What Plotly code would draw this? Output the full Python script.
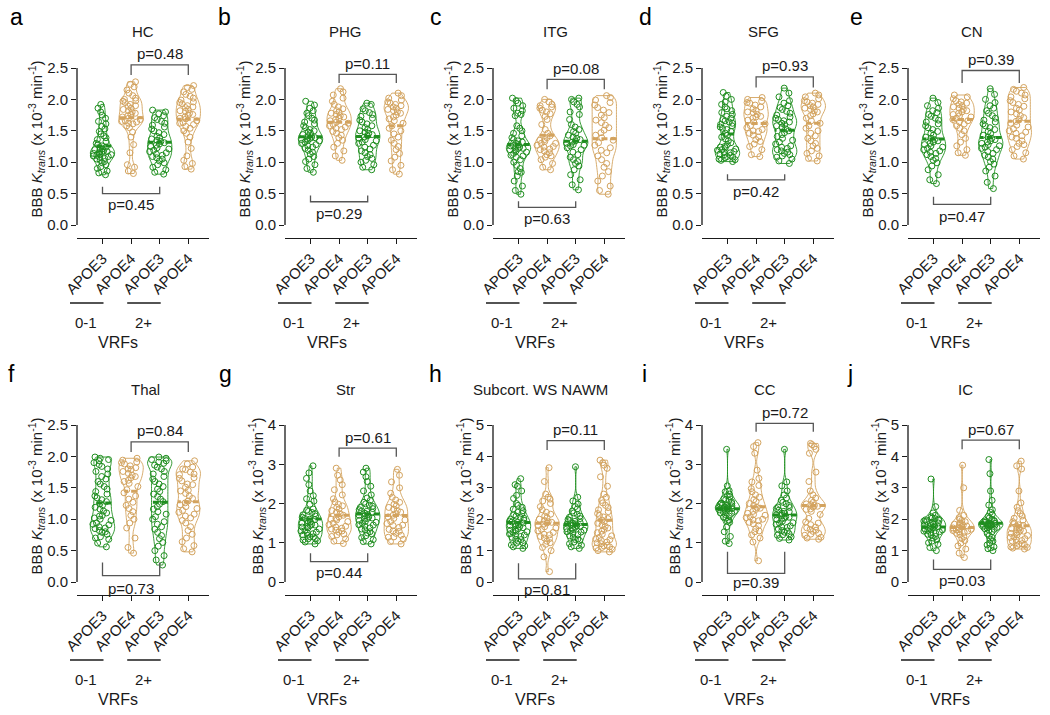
import plotly.graph_objects as go

# ------------------------------------------------------------------ data
PANEL_LETTERS = ['a', 'b', 'c', 'd', 'e', 'f', 'g', 'h', 'i', 'j']
PANEL_TITLES = ['HC', 'PHG', 'ITG', 'SFG', 'CN', 'Thal', 'Str', 'Subcort. WS NAWM', 'CC', 'IC']
CATEGORIES = ['APOE3', 'APOE4', 'APOE3', 'APOE4']
VRF_GROUPS = ['0-1', '2+']
Y_MAX = [2.5, 2.5, 2.5, 2.5, 2.5, 2.5, 4, 5, 4, 5]
Y_STEP = [0.5, 0.5, 0.5, 0.5, 0.5, 0.5, 1, 1, 1, 1]
P_TOP = ['p=0.48', 'p=0.11', 'p=0.08', 'p=0.93', 'p=0.39', 'p=0.84', 'p=0.61', 'p=0.11', 'p=0.72', 'p=0.67']
P_BOTTOM = ['p=0.45', 'p=0.29', 'p=0.63', 'p=0.42', 'p=0.47', 'p=0.73', 'p=0.44', 'p=0.81', 'p=0.39', 'p=0.03']

HC_01_E3 = [0.80, 0.83, 0.86, 0.90, 0.93, 0.96, 0.99, 1.01, 1.03, 1.05, 1.06, 1.08, 1.09, 1.10, 1.11, 1.12, 1.13, 1.14, 1.15, 1.16, 1.17, 1.18, 1.19, 1.20, 1.21, 1.22, 1.24, 1.26, 1.28, 1.30, 1.33, 1.36, 1.39, 1.42, 1.45, 1.49, 1.53, 1.57, 1.61, 1.65, 1.70, 1.75, 1.80, 1.86, 1.92]
HC_01_E4 = [0.82, 0.86, 0.92, 0.96, 1.15, 1.28, 1.40, 1.48, 1.55, 1.58, 1.61, 1.62, 1.64, 1.65, 1.66, 1.68, 1.70, 1.72, 1.74, 1.76, 1.78, 1.80, 1.82, 1.84, 1.86, 1.89, 1.90, 1.92, 1.95, 1.97, 1.98, 2.00, 2.02, 2.06, 2.10, 2.15, 2.20, 2.24, 2.28]
HC_2_E3 = [0.81, 0.84, 0.88, 0.92, 0.96, 0.99, 1.02, 1.05, 1.07, 1.09, 1.11, 1.13, 1.15, 1.17, 1.19, 1.21, 1.23, 1.25, 1.27, 1.29, 1.31, 1.33, 1.35, 1.37, 1.39, 1.41, 1.44, 1.47, 1.50, 1.53, 1.56, 1.59, 1.62, 1.65, 1.68, 1.71, 1.74, 1.77, 1.80, 1.83]
HC_2_E4 = [0.89, 0.93, 0.98, 1.03, 1.10, 1.22, 1.32, 1.40, 1.46, 1.50, 1.54, 1.57, 1.60, 1.62, 1.63, 1.66, 1.69, 1.70, 1.72, 1.75, 1.76, 1.78, 1.81, 1.82, 1.84, 1.87, 1.88, 1.90, 1.93, 1.95, 1.96, 1.99, 2.02, 2.05, 2.08, 2.12, 2.16, 2.19, 2.22]

PHG_01_E3 = [0.84, 0.90, 0.96, 1.01, 1.05, 1.09, 1.13, 1.16, 1.19, 1.22, 1.24, 1.26, 1.28, 1.30, 1.32, 1.34, 1.35, 1.36, 1.37, 1.38, 1.39, 1.40, 1.42, 1.44, 1.46, 1.48, 1.50, 1.52, 1.55, 1.58, 1.61, 1.64, 1.67, 1.70, 1.74, 1.78, 1.82, 1.86, 1.91, 1.97]
PHG_01_E4 = [1.03, 1.10, 1.18, 1.24, 1.30, 1.35, 1.39, 1.43, 1.46, 1.49, 1.52, 1.54, 1.56, 1.58, 1.60, 1.62, 1.64, 1.66, 1.68, 1.70, 1.72, 1.74, 1.76, 1.78, 1.80, 1.82, 1.85, 1.88, 1.92, 1.97, 2.02, 2.07, 2.12, 2.17]
PHG_2_E3 = [0.88, 0.92, 0.96, 1.00, 1.03, 1.06, 1.09, 1.12, 1.15, 1.18, 1.21, 1.24, 1.27, 1.30, 1.32, 1.34, 1.36, 1.38, 1.40, 1.42, 1.44, 1.46, 1.48, 1.50, 1.52, 1.55, 1.58, 1.61, 1.64, 1.67, 1.70, 1.73, 1.76, 1.79, 1.82, 1.85, 1.92, 1.94]
PHG_2_E4 = [0.81, 0.88, 0.95, 1.02, 1.08, 1.14, 1.20, 1.25, 1.30, 1.35, 1.40, 1.45, 1.50, 1.54, 1.58, 1.62, 1.66, 1.69, 1.72, 1.75, 1.78, 1.80, 1.82, 1.84, 1.86, 1.88, 1.90, 1.92, 1.94, 1.96, 1.99, 2.02, 2.06, 2.10]

ITG_01_E3 = [0.49, 0.55, 0.62, 0.70, 0.78, 0.84, 0.85, 0.90, 0.95, 1.00, 1.04, 1.08, 1.10, 1.11, 1.14, 1.16, 1.18, 1.20, 1.20, 1.22, 1.22, 1.24, 1.25, 1.26, 1.28, 1.30, 1.32, 1.34, 1.36, 1.39, 1.42, 1.46, 1.50, 1.54, 1.58, 1.74, 1.76, 1.78, 1.82, 1.86, 1.90, 1.94, 1.98, 2.02]
ITG_01_E4 = [0.88, 0.92, 0.98, 1.04, 1.08, 1.10, 1.12, 1.15, 1.18, 1.20, 1.21, 1.24, 1.25, 1.27, 1.30, 1.30, 1.33, 1.35, 1.36, 1.39, 1.42, 1.46, 1.52, 1.60, 1.68, 1.73, 1.77, 1.80, 1.83, 1.86, 1.88, 1.90, 1.92, 1.96, 2.00]
ITG_2_E3 = [0.56, 0.64, 0.72, 0.80, 0.88, 0.94, 0.98, 1.01, 1.04, 1.08, 1.12, 1.16, 1.20, 1.23, 1.26, 1.27, 1.28, 1.30, 1.32, 1.34, 1.36, 1.38, 1.40, 1.43, 1.46, 1.49, 1.52, 1.56, 1.60, 1.68, 1.76, 1.80, 1.88, 1.92, 1.96, 2.00, 2.02]
ITG_2_E4 = [0.49, 0.55, 0.62, 0.70, 0.78, 0.85, 0.92, 0.98, 1.04, 1.10, 1.15, 1.19, 1.23, 1.27, 1.31, 1.35, 1.39, 1.43, 1.47, 1.51, 1.55, 1.59, 1.63, 1.67, 1.71, 1.75, 1.79, 1.83, 1.87, 1.91, 1.95, 1.99, 2.03, 2.06]

SFG_01_E3 = [1.01, 1.03, 1.04, 1.05, 1.07, 1.08, 1.09, 1.11, 1.12, 1.13, 1.15, 1.16, 1.17, 1.19, 1.20, 1.21, 1.23, 1.24, 1.25, 1.28, 1.31, 1.34, 1.37, 1.40, 1.43, 1.46, 1.49, 1.52, 1.54, 1.56, 1.58, 1.60, 1.62, 1.64, 1.66, 1.68, 1.70, 1.73, 1.76, 1.79, 1.82, 1.85, 1.88, 1.92, 1.96, 2.00, 2.05, 2.11]
SFG_01_E4 = [1.09, 1.12, 1.20, 1.25, 1.29, 1.33, 1.36, 1.40, 1.43, 1.46, 1.49, 1.50, 1.52, 1.55, 1.58, 1.61, 1.64, 1.67, 1.70, 1.72, 1.73, 1.76, 1.79, 1.80, 1.82, 1.85, 1.88, 1.91, 1.94, 1.95, 1.97, 2.00, 2.03]
SFG_2_E3 = [0.98, 1.02, 1.05, 1.08, 1.10, 1.12, 1.14, 1.16, 1.18, 1.20, 1.22, 1.24, 1.26, 1.29, 1.32, 1.35, 1.38, 1.41, 1.44, 1.47, 1.50, 1.53, 1.56, 1.58, 1.60, 1.62, 1.64, 1.66, 1.68, 1.70, 1.72, 1.75, 1.78, 1.81, 1.84, 1.87, 1.90, 1.94, 1.98, 2.04, 2.10, 2.18]
SFG_2_E4 = [1.02, 1.06, 1.10, 1.14, 1.18, 1.22, 1.26, 1.30, 1.34, 1.38, 1.42, 1.46, 1.50, 1.54, 1.58, 1.62, 1.66, 1.70, 1.74, 1.77, 1.80, 1.82, 1.84, 1.86, 1.88, 1.90, 1.92, 1.94, 1.96, 1.98, 2.01, 2.04, 2.07, 2.10]

CN_01_E3 = [0.66, 0.72, 0.80, 0.88, 0.94, 0.99, 1.03, 1.06, 1.09, 1.12, 1.14, 1.16, 1.18, 1.20, 1.22, 1.24, 1.26, 1.28, 1.30, 1.32, 1.34, 1.36, 1.38, 1.40, 1.43, 1.46, 1.49, 1.52, 1.55, 1.58, 1.61, 1.64, 1.67, 1.70, 1.73, 1.76, 1.79, 1.82, 1.86, 1.90, 1.95, 2.02]
CN_01_E4 = [1.11, 1.15, 1.20, 1.26, 1.32, 1.38, 1.44, 1.50, 1.54, 1.58, 1.61, 1.64, 1.66, 1.68, 1.70, 1.72, 1.74, 1.76, 1.78, 1.80, 1.82, 1.84, 1.86, 1.88, 1.90, 1.92, 1.94, 1.96, 1.98, 2.01, 2.04, 2.07]
CN_2_E3 = [0.58, 0.68, 0.78, 0.86, 0.92, 0.97, 1.01, 1.05, 1.08, 1.11, 1.14, 1.17, 1.20, 1.22, 1.24, 1.26, 1.28, 1.30, 1.32, 1.34, 1.36, 1.38, 1.40, 1.43, 1.46, 1.49, 1.52, 1.55, 1.58, 1.61, 1.64, 1.67, 1.70, 1.74, 1.78, 1.82, 1.86, 1.90, 1.95, 2.00, 2.08, 2.17]
CN_2_E4 = [1.05, 1.10, 1.15, 1.20, 1.25, 1.28, 1.30, 1.34, 1.38, 1.40, 1.42, 1.46, 1.48, 1.50, 1.53, 1.56, 1.59, 1.62, 1.65, 1.68, 1.71, 1.74, 1.77, 1.80, 1.83, 1.86, 1.89, 1.92, 1.95, 1.98, 2.01, 2.04, 2.07, 2.10, 2.13, 2.16, 2.19]

THAL_01_E3 = [0.56, 0.62, 0.68, 0.70, 0.72, 0.76, 0.79, 0.80, 0.82, 0.85, 0.86, 0.88, 0.91, 0.92, 0.94, 0.98, 1.00, 1.02, 1.05, 1.06, 1.10, 1.13, 1.16, 1.19, 1.22, 1.25, 1.28, 1.31, 1.34, 1.37, 1.40, 1.44, 1.48, 1.52, 1.56, 1.60, 1.64, 1.68, 1.72, 1.76, 1.80, 1.84, 1.87, 1.90, 1.93, 1.95, 1.97, 1.99]
THAL_01_E4 = [0.46, 0.55, 0.70, 0.86, 0.94, 1.00, 1.06, 1.12, 1.17, 1.22, 1.27, 1.32, 1.37, 1.42, 1.47, 1.52, 1.57, 1.60, 1.62, 1.66, 1.68, 1.70, 1.73, 1.76, 1.79, 1.80, 1.82, 1.85, 1.88, 1.90, 1.91, 1.94, 1.97]
THAL_2_E3 = [0.27, 0.35, 0.42, 0.50, 0.57, 0.63, 0.69, 0.74, 0.79, 0.84, 0.88, 0.92, 0.96, 1.00, 1.04, 1.08, 1.12, 1.16, 1.20, 1.24, 1.28, 1.32, 1.36, 1.40, 1.44, 1.48, 1.52, 1.56, 1.60, 1.64, 1.68, 1.72, 1.76, 1.80, 1.83, 1.86, 1.89, 1.91, 1.93, 1.95, 1.97, 1.99]
THAL_2_E4 = [0.48, 0.53, 0.58, 0.64, 0.70, 0.76, 0.82, 0.88, 0.94, 0.98, 1.02, 1.05, 1.08, 1.11, 1.14, 1.17, 1.20, 1.23, 1.26, 1.29, 1.33, 1.37, 1.41, 1.45, 1.46, 1.51, 1.55, 1.56, 1.61, 1.65, 1.66, 1.71, 1.72, 1.75, 1.79, 1.80, 1.83, 1.88, 1.93]

STR_01_E3 = [0.97, 1.02, 1.05, 1.07, 1.10, 1.11, 1.15, 1.15, 1.19, 1.20, 1.23, 1.25, 1.27, 1.30, 1.31, 1.35, 1.38, 1.40, 1.41, 1.44, 1.45, 1.47, 1.50, 1.50, 1.53, 1.56, 1.59, 1.60, 1.62, 1.65, 1.68, 1.71, 1.74, 1.77, 1.80, 1.83, 1.86, 1.98, 2.06, 2.12, 2.20, 2.32, 2.48, 2.64, 2.78, 2.96]
STR_01_E4 = [0.98, 1.04, 1.10, 1.16, 1.20, 1.22, 1.27, 1.30, 1.32, 1.35, 1.37, 1.40, 1.42, 1.46, 1.50, 1.54, 1.58, 1.60, 1.62, 1.66, 1.70, 1.74, 1.78, 1.82, 1.86, 1.90, 1.94, 1.98, 2.04, 2.12, 2.22, 2.35, 2.48, 2.60, 2.72, 2.90]
STR_2_E3 = [0.97, 1.03, 1.08, 1.13, 1.18, 1.23, 1.25, 1.28, 1.33, 1.35, 1.38, 1.42, 1.45, 1.46, 1.50, 1.52, 1.54, 1.57, 1.60, 1.62, 1.63, 1.66, 1.69, 1.70, 1.72, 1.75, 1.78, 1.80, 1.81, 1.84, 1.87, 1.90, 1.93, 1.96, 1.99, 2.03, 2.08, 2.14, 2.22, 2.32, 2.44, 2.56, 2.68, 2.80, 2.90]
STR_2_E4 = [0.97, 1.03, 1.09, 1.14, 1.15, 1.19, 1.24, 1.29, 1.30, 1.34, 1.39, 1.44, 1.45, 1.49, 1.54, 1.58, 1.62, 1.66, 1.70, 1.74, 1.78, 1.82, 1.86, 1.90, 1.94, 1.98, 2.03, 2.09, 2.16, 2.26, 2.40, 2.55, 2.72, 2.87]

NAWM_01_E3 = [1.07, 1.12, 1.15, 1.18, 1.24, 1.25, 1.30, 1.35, 1.36, 1.42, 1.45, 1.48, 1.50, 1.53, 1.58, 1.60, 1.62, 1.65, 1.66, 1.70, 1.73, 1.76, 1.79, 1.80, 1.82, 1.85, 1.88, 1.90, 1.91, 1.94, 1.97, 2.00, 2.03, 2.06, 2.10, 2.14, 2.18, 2.22, 2.27, 2.32, 2.38, 2.44, 2.50, 2.66, 2.76, 2.90, 3.05, 3.10, 3.29]
NAWM_01_E4 = [0.33, 0.80, 1.00, 1.10, 1.20, 1.25, 1.30, 1.38, 1.40, 1.45, 1.50, 1.52, 1.58, 1.63, 1.68, 1.72, 1.76, 1.80, 1.84, 1.88, 1.90, 1.92, 1.96, 2.00, 2.05, 2.10, 2.16, 2.22, 2.30, 2.40, 2.50, 2.58, 2.64, 2.70, 2.80, 3.20, 3.64]
NAWM_2_E3 = [1.07, 1.12, 1.17, 1.22, 1.27, 1.32, 1.35, 1.37, 1.42, 1.47, 1.51, 1.55, 1.59, 1.60, 1.63, 1.65, 1.67, 1.70, 1.71, 1.75, 1.78, 1.80, 1.81, 1.84, 1.85, 1.87, 1.90, 1.93, 1.96, 1.99, 2.02, 2.06, 2.10, 2.15, 2.20, 2.26, 2.33, 2.40, 2.48, 2.58, 2.70, 3.67]
NAWM_2_E4 = [0.96, 1.00, 1.04, 1.08, 1.10, 1.12, 1.15, 1.17, 1.22, 1.25, 1.27, 1.32, 1.35, 1.37, 1.42, 1.47, 1.52, 1.57, 1.62, 1.67, 1.72, 1.77, 1.82, 1.87, 1.92, 1.97, 2.02, 2.07, 2.12, 2.18, 2.24, 2.30, 2.37, 2.44, 2.52, 2.60, 2.70, 2.80, 3.05, 3.35, 3.62, 3.72, 3.80, 3.88]

CC_01_E3 = [0.98, 1.04, 1.16, 1.28, 1.40, 1.52, 1.55, 1.58, 1.63, 1.65, 1.68, 1.72, 1.75, 1.76, 1.79, 1.80, 1.82, 1.84, 1.85, 1.86, 1.87, 1.88, 1.89, 1.90, 1.91, 1.92, 1.94, 1.95, 1.96, 1.98, 2.00, 2.01, 2.04, 2.08, 2.10, 2.12, 2.17, 2.20, 2.24, 2.30, 2.33, 2.45, 3.38]
CC_01_E4 = [0.54, 1.02, 1.12, 1.20, 1.28, 1.30, 1.36, 1.44, 1.48, 1.52, 1.56, 1.58, 1.60, 1.64, 1.66, 1.70, 1.72, 1.75, 1.80, 1.85, 1.88, 1.90, 1.95, 2.00, 2.05, 2.10, 2.16, 2.22, 2.30, 2.38, 2.46, 2.55, 2.64, 2.85, 3.28, 3.45, 3.55]
CC_2_E3 = [1.07, 1.11, 1.15, 1.19, 1.20, 1.23, 1.27, 1.30, 1.31, 1.35, 1.39, 1.40, 1.43, 1.47, 1.50, 1.51, 1.55, 1.59, 1.60, 1.63, 1.65, 1.67, 1.70, 1.71, 1.75, 1.75, 1.79, 1.80, 1.83, 1.87, 1.90, 1.91, 1.95, 1.99, 2.03, 2.08, 2.14, 2.22, 2.32, 2.45, 2.55, 3.38]
CC_2_E4 = [1.09, 1.12, 1.14, 1.19, 1.22, 1.24, 1.29, 1.32, 1.34, 1.38, 1.40, 1.46, 1.50, 1.53, 1.62, 1.72, 1.80, 1.85, 1.86, 1.91, 1.93, 1.95, 1.97, 1.99, 2.03, 2.08, 2.14, 2.22, 2.32, 2.56, 2.80, 3.28, 3.38, 3.45, 3.50, 3.53]

IC_01_E3 = [1.00, 1.10, 1.20, 1.25, 1.30, 1.35, 1.40, 1.45, 1.50, 1.52, 1.55, 1.58, 1.60, 1.62, 1.64, 1.66, 1.68, 1.70, 1.72, 1.74, 1.76, 1.78, 1.80, 1.82, 1.84, 1.86, 1.88, 1.90, 1.92, 1.94, 1.96, 1.98, 2.00, 2.02, 2.04, 2.08, 2.12, 2.20, 2.40, 3.28]
IC_01_E4 = [0.78, 0.92, 1.05, 1.15, 1.24, 1.32, 1.38, 1.44, 1.50, 1.55, 1.58, 1.60, 1.62, 1.64, 1.66, 1.68, 1.70, 1.72, 1.74, 1.76, 1.78, 1.80, 1.82, 1.84, 1.86, 1.88, 1.92, 1.96, 2.00, 2.05, 2.12, 2.28, 3.00, 3.72]
IC_2_E3 = [1.00, 1.06, 1.12, 1.18, 1.24, 1.30, 1.36, 1.42, 1.48, 1.54, 1.60, 1.65, 1.68, 1.70, 1.72, 1.74, 1.76, 1.78, 1.79, 1.80, 1.81, 1.82, 1.83, 1.84, 1.85, 1.86, 1.87, 1.88, 1.90, 1.91, 1.93, 1.95, 1.96, 2.00, 2.04, 2.09, 2.15, 2.22, 2.30, 2.45, 2.60, 2.90, 3.45, 3.90]
IC_2_E4 = [1.05, 1.08, 1.10, 1.12, 1.15, 1.18, 1.20, 1.22, 1.26, 1.30, 1.32, 1.35, 1.38, 1.42, 1.44, 1.48, 1.50, 1.55, 1.56, 1.60, 1.62, 1.65, 1.67, 1.70, 1.72, 1.77, 1.80, 1.82, 1.87, 1.92, 1.97, 2.03, 2.10, 2.18, 2.27, 2.38, 2.52, 2.90, 3.60, 3.70, 3.85]

PANEL_GROUPS = [
    [HC_01_E3, HC_01_E4, HC_2_E3, HC_2_E4],
    [PHG_01_E3, PHG_01_E4, PHG_2_E3, PHG_2_E4],
    [ITG_01_E3, ITG_01_E4, ITG_2_E3, ITG_2_E4],
    [SFG_01_E3, SFG_01_E4, SFG_2_E3, SFG_2_E4],
    [CN_01_E3, CN_01_E4, CN_2_E3, CN_2_E4],
    [THAL_01_E3, THAL_01_E4, THAL_2_E3, THAL_2_E4],
    [STR_01_E3, STR_01_E4, STR_2_E3, STR_2_E4],
    [NAWM_01_E3, NAWM_01_E4, NAWM_2_E3, NAWM_2_E4],
    [CC_01_E3, CC_01_E4, CC_2_E3, CC_2_E4],
    [IC_01_E3, IC_01_E4, IC_2_E3, IC_2_E4],
]

# ------------------------------------------------------------------ layout / style
W, H = 1050, 715
FONT = 'Liberation Sans, Arial, Helvetica, sans-serif'
GREEN = '#1f8e1f'
TAN = '#d3a35e'
GROUP_COLORS = [GREEN, TAN, GREEN, TAN]
INK = '#1a1a1a'
BRACKET = '#555555'

AX_PX = [77, 285, 493, 702, 908]          # y-axis line x per column
DOM_W = 132                               # plot width in px
ROW_DOM = [(40, 238), (397, 595)]         # top / bottom px of each row's plot area
ZERO_PX = [225, 582]                      # pixel row of value 0
AXIS_H = 157                              # px from 0 to y max
PPX = 28.6                                # px per category step
XR0 = 1 - 25.5 / PPX
XR1 = XR0 + DOM_W / PPX

TOP_BRACKET_Y = [2.55, 2.40, 2.32, 2.36, 2.46, 2.23, 3.41, 4.50, 4.04, 4.52]
TOP_BRACKET_LEG = [2.39, 2.26, 2.16, 2.19, 2.26, 2.07, 3.19, 4.20, 3.83, 4.23]
BOT_BRACKET_Y = [0.50, 0.37, 0.28, 0.72, 0.33, 0.10, 0.52, 0.10, 0.22, 0.40]
BOT_BRACKET_LEG = [0.61, 0.47, 0.38, 0.81, 0.45, 0.31, 0.73, 0.60, 0.77, 0.72]
BOT_TEXT_SHIFT = [11, 11.5, 11, 11.5, 12, 13, 11, 11, 9, 11]
TITLE_X_PX = [143, 345, 555, 763, 972, 145, 345, 540, 765, 965]
LETTER_X_PX = [8, 216, 428, 637, 848, 6, 217, 427, 640, 845]

YTITLE = 'BBB <i>K</i><sub><i>trans</i></sub> (x 10<sup>-3</sup> min<sup>-1</sup>)'


def px_x(col, v):
    return AX_PX[col] + (v - XR0) * PPX


fig = go.Figure()
shapes = []
annotations = []
layout_axes = {}

for k in range(10):
    row, col = divmod(k, 5)
    sfx = '' if k == 0 else str(k + 1)
    xref, yref = 'x' + sfx, 'y' + sfx
    ymax, ystep = Y_MAX[k], Y_STEP[k]
    ppu = AXIS_H / ymax
    top_px, bot_px = ROW_DOM[row]
    yr0 = -(bot_px - ZERO_PX[row]) / ppu
    yr1 = (ZERO_PX[row] - top_px) / ppu

    nt = int(round(ymax / ystep))
    tickvals = [i * ystep for i in range(nt + 1)]
    ticktext = [('%.1f' % v) if ystep < 1 else ('%d' % v) for v in tickvals]

    layout_axes['xaxis' + sfx] = dict(
        domain=[AX_PX[col] / W, (AX_PX[col] + DOM_W) / W], anchor=yref,
        range=[XR0, XR1], showgrid=False, zeroline=False, automargin=False,
        showline=True, linecolor=INK, linewidth=1.3,
        ticks='outside', ticklen=5, tickwidth=1.3, tickcolor=INK,
        tickvals=[1, 2, 3, 4], ticktext=CATEGORIES, tickangle=-45,
        tickfont=dict(family=FONT, size=15, color=INK), fixedrange=True)
    layout_axes['yaxis' + sfx] = dict(
        domain=[1 - bot_px / H, 1 - top_px / H], anchor=xref,
        range=[yr0, yr1], showgrid=False, zeroline=False, showline=False,
        automargin=False,
        ticks='outside', ticklen=5, tickwidth=1.3, tickcolor=INK,
        tickvals=tickvals, ticktext=ticktext,
        tickfont=dict(family=FONT, size=15, color=INK),
        title=dict(text=YTITLE, font=dict(family=FONT, size=15, color=INK), standoff=0),
        fixedrange=True)

    # y axis line from 0 to y max
    shapes.append(dict(type='line', xref=xref + ' domain', yref=yref, x0=0, x1=0,
                       y0=0, y1=ymax, line=dict(color=INK, width=1.3)))

    # violins
    for g, vals in enumerate(PANEL_GROUPS[k]):
        c = GROUP_COLORS[g]
        fig.add_trace(go.Violin(
            y=vals, x0=g + 1, xaxis=xref, yaxis=yref,
            width=0.85, scalemode='width', spanmode='hard',
            bandwidth=0.075 * ymax / 2.5,
            line=dict(color=c, width=0.9), fillcolor='rgba(255,255,255,0)',
            points='all', pointpos=0, jitter=0.85,
            marker=dict(symbol='circle-open', size=6, color=c, line=dict(width=1)),
            meanline=dict(visible=True, color=c, width=3),
            box=dict(visible=False), showlegend=False, hoverinfo='y'))

    # p-value brackets
    ty, tl = TOP_BRACKET_Y[k], TOP_BRACKET_LEG[k]
    shapes.append(dict(type='path', xref=xref, yref=yref,
                       path=f'M 2,{tl} L 2,{ty} L 4,{ty} L 4,{tl}',
                       line=dict(color=BRACKET, width=1.3)))
    by, bl = BOT_BRACKET_Y[k], BOT_BRACKET_LEG[k]
    shapes.append(dict(type='path', xref=xref, yref=yref,
                       path=f'M 1,{bl} L 1,{by} L 3,{by} L 3,{bl}',
                       line=dict(color=BRACKET, width=1.3)))
    annotations.append(dict(text=P_TOP[k], xref=xref, yref=yref, x=3, y=ty,
                            yshift=11, yanchor='middle', xanchor='center', showarrow=False,
                            font=dict(family=FONT, size=15, color=INK)))
    annotations.append(dict(text=P_BOTTOM[k], xref=xref, yref=yref, x=2, y=by,
                            yshift=-BOT_TEXT_SHIFT[k], yanchor='middle', xanchor='center',
                            showarrow=False, font=dict(family=FONT, size=15, color=INK)))

    # panel letter and title
    dy = row * 357
    annotations.append(dict(text=PANEL_LETTERS[k], xref='paper', yref='paper',
                            x=LETTER_X_PX[k] / W, y=1 - (17 + dy) / H,
                            xanchor='left', yanchor='middle', showarrow=False,
                            font=dict(family=FONT, size=23, color='#000')))
    annotations.append(dict(text=PANEL_TITLES[k], xref='paper', yref='paper',
                            x=TITLE_X_PX[k] / W, y=1 - (32 + dy) / H,
                            xanchor='center', yanchor='middle', showarrow=False,
                            font=dict(family=FONT, size=15, color=INK)))

    # VRF group underlines and labels
    for gi, pos in enumerate([1, 3]):
        xc = px_x(col, pos)
        shapes.append(dict(type='line', xref='paper', yref='paper',
                           x0=(xc - 32.5) / W, x1=(xc + 1) / W,
                           y0=1 - (303 + dy) / H, y1=1 - (303 + dy) / H,
                           line=dict(color=INK, width=1.3)))
        annotations.append(dict(text=VRF_GROUPS[gi], xref='paper', yref='paper',
                                x=(xc - 16.5) / W, y=1 - (322 + dy) / H,
                                xanchor='center', yanchor='middle', showarrow=False,
                                font=dict(family=FONT, size=15, color=INK)))
    annotations.append(dict(text='VRFs', xref='paper', yref='paper',
                            x=(px_x(col, 1) + 16) / W, y=1 - (342 + dy) / H,
                            xanchor='center', yanchor='middle', showarrow=False,
                            font=dict(family=FONT, size=16, color=INK)))

fig.update_layout(
    width=W, height=H, margin=dict(l=0, r=0, t=0, b=0, pad=0, autoexpand=False),
    paper_bgcolor='white', plot_bgcolor='rgba(0,0,0,0)',
    showlegend=False, violinmode='overlay',
    shapes=shapes, annotations=annotations,
    font=dict(family=FONT, color=INK),
    **layout_axes)

fig.write_html('out.html', config={'displayModeBar': False},
               post_script="document.body.style.margin='0px';")
